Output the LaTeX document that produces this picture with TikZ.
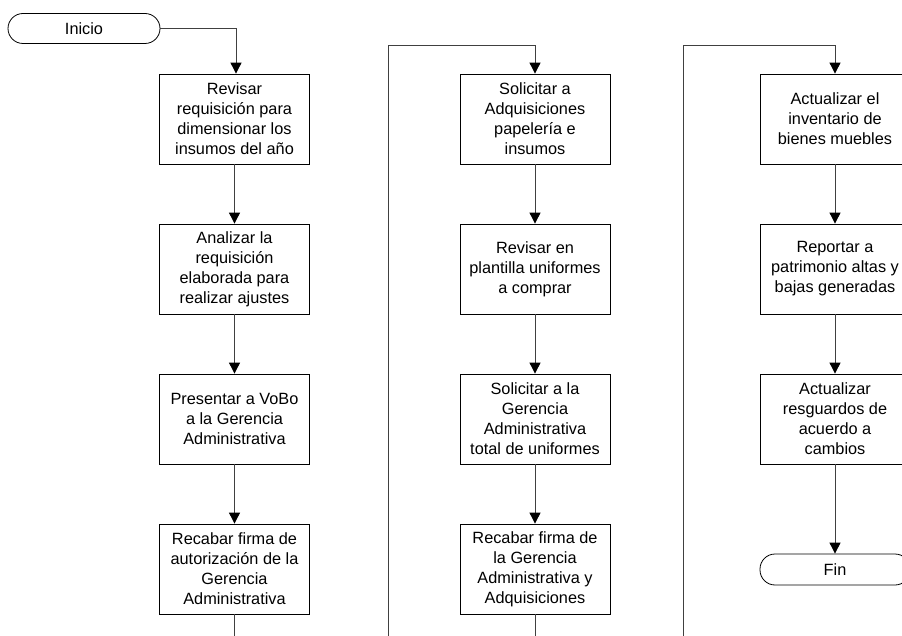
\documentclass[tikz,border=0pt]{standalone}
\usepackage{fontspec}
\setmainfont{Liberation Sans}
\usetikzlibrary{arrows.meta}
\begin{document}
\begin{tikzpicture}[x=1pt,y=-1pt,
  every node/.style={font=\fontsize{16.3}{20}\selectfont},
  proc/.style={draw=black, line width=0.8pt, rectangle, minimum width=150pt,
    minimum height=90pt, align=center, inner sep=0pt, fill=white},
  term/.style={draw=black, line width=0.8pt, rectangle, rounded corners=15pt,
    minimum width=152pt, minimum height=30pt, inner sep=0pt},
  flow/.style={draw=black!75, line width=0.9pt},
  arr/.style={flow, -{Triangle[length=11pt,width=11pt,color=black]}}
]
\useasboundingbox (0,0) rectangle (902,636);
\clip (0,0) rectangle (902,636);

% start terminator
\node[term] (ini) at (84,28.5) {Inicio};

% first column
\node[proc] (b1) at (234.5,119) {Revisar\\requisición para\\dimensionar los\\insumos del año};
\node[proc] (b2) at (234.5,269) {Analizar la\\requisición\\elaborada para\\realizar ajustes};
\node[proc] (b3) at (234.5,419) {Presentar a VoBo\\a la Gerencia\\Administrativa};
\node[proc] (b4) at (234.5,569) {Recabar firma de\\autorización de la\\Gerencia\\Administrativa};

% second column
\node[proc] (b5) at (535,119) {Solicitar a\\Adquisiciones\\papelería e\\insumos};
\node[proc] (b6) at (535,269) {Revisar en\\plantilla uniformes\\a comprar};
\node[proc] (b7) at (535,419) {Solicitar a la\\Gerencia\\Administrativa\\total de uniformes};
\node[proc] (b8) at (535,569) {Recabar firma de\\la Gerencia\\Administrativa y\\Adquisiciones};

% third column
\node[proc] (b9) at (835,119) {Actualizar el\\inventario de\\bienes muebles};
\node[proc] (b10) at (835,269) {Reportar a\\patrimonio altas y\\bajas generadas};
\node[proc] (b11) at (835,419) {Actualizar\\resguardos de\\acuerdo a\\cambios};
\node[term, minimum width=150pt, minimum height=31pt] (fin) at (835,569.5) {Fin};

% off-page continuation points
\coordinate (c1end) at (234.5,640);
\coordinate (c2in) at (388,640);
\coordinate (c2top) at (388,45);
\coordinate (c2end) at (535,640);
\coordinate (c3in) at (683,640);
\coordinate (c3top) at (683,45);

% connectors
\draw[arr] (ini.east) -| ([xshift=1.5pt]b1.north);
\draw[arr] (b1) -- (b2);
\draw[arr] (b2) -- (b3);
\draw[arr] (b3) -- (b4);
\draw[flow] (b4.south) -- (c1end);

\draw[arr] (c2in) -- (c2top) -| (b5.north);
\draw[arr] (b5) -- (b6);
\draw[arr] (b6) -- (b7);
\draw[arr] (b7) -- (b8);
\draw[flow] (b8.south) -- (c2end);

\draw[arr] (c3in) -- (c3top) -| (b9.north);
\draw[arr] (b9) -- (b10);
\draw[arr] (b10) -- (b11);
\draw[arr] (b11) -- (fin);
\end{tikzpicture}
\end{document}
